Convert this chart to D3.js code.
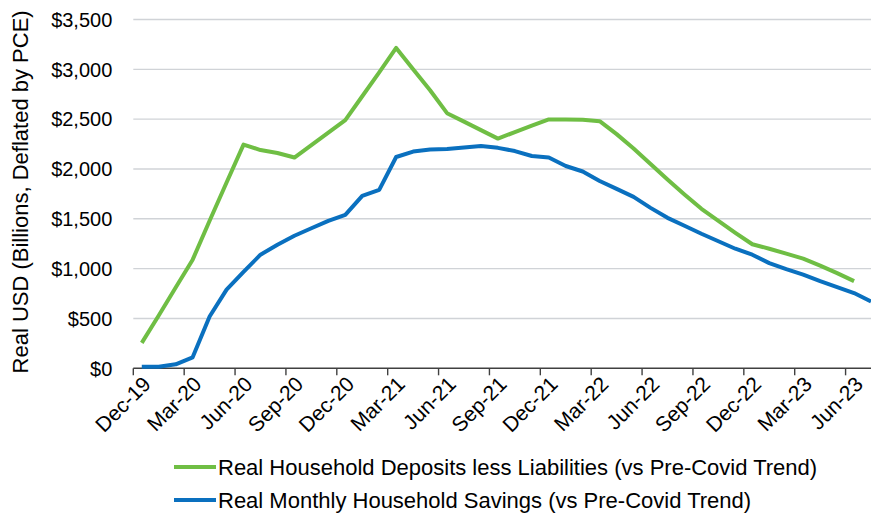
<!DOCTYPE html>
<html>
<head>
<meta charset="utf-8">
<script src="https://cdn.jsdelivr.net/npm/d3@7"></script>
<style>
  html, body { margin: 0; padding: 0; background: #fff; }
  svg { display: block; font-family: "Liberation Sans", Arial, Helvetica, sans-serif; }
</style>
</head>
<body>
<svg id="chart" width="871" height="519"></svg>
<script>
const months = ["Dec-19","Jan-20","Feb-20","Mar-20","Apr-20","May-20","Jun-20","Jul-20","Aug-20","Sep-20","Oct-20","Nov-20",
  "Dec-20","Jan-21","Feb-21","Mar-21","Apr-21","May-21","Jun-21","Jul-21","Aug-21","Sep-21","Oct-21","Nov-21",
  "Dec-21","Jan-22","Feb-22","Mar-22","Apr-22","May-22","Jun-22","Jul-22","Aug-22","Sep-22","Oct-22","Nov-22",
  "Dec-22","Jan-23","Feb-23","Mar-23","Apr-23","May-23","Jun-23","Jul-23"];

const depositsLessLiabilities = [255,530,810,1090,1480,1865,2245,2190,2160,2115,2240,2365,
  2490,2730,2970,3215,3000,2790,2560,2475,2390,2305,2370,2435,
  2497,2497,2495,2480,2350,2205,2050,1895,1745,1600,1480,1360,
  1245,1200,1150,1100,1030,955,875,null];

const monthlySavings = [15,15,40,110,520,790,968,1140,1240,1330,1405,1480,
  1540,1730,1790,2120,2175,2195,2200,2215,2230,2212,2180,2130,
  2115,2030,1975,1880,1800,1720,1610,1510,1430,1350,1275,1200,
  1140,1055,995,940,875,815,755,670];

const yTicks = [0,500,1000,1500,2000,2500,3000,3500];
const seriesNames = ["Real Household Deposits less Liabilities (vs Pre-Covid Trend)",
                     "Real Monthly Household Savings (vs Pre-Covid Trend)"];
const seriesColors = ["#6fbe44", "#0a70bf"];
const yTitle = "Real USD (Billions, Deflated by PCE)";

const svg = d3.select("#chart");
const pLeft = 133.3, pRight = 879.5, pTop = 19.5, pBottom = 368.3;

const x = d3.scaleBand().domain(months).range([pLeft, pRight]).padding(0);
const cx = m => x(m) + x.bandwidth() / 2;
const y = d3.scaleLinear().domain([0, 3500]).range([pBottom, pTop]);

// gridlines
svg.append("g").selectAll("line").data(yTicks.filter(t => t > 0)).join("line")
  .attr("x1", pLeft).attr("x2", 871)
  .attr("y1", d => y(d)).attr("y2", d => y(d))
  .attr("stroke", "#d0d3d7").attr("stroke-width", 1.4);

// y labels
const fmt = d => "$" + d3.format(",")(d);
svg.append("g").selectAll("text").data(yTicks).join("text")
  .attr("x", pLeft - 21).attr("y", d => y(d)).attr("dy", "0.36em")
  .attr("text-anchor", "end").attr("font-size", 20).attr("fill", "#000")
  .text(fmt);

// y title
svg.append("text")
  .attr("transform", `translate(20,${(pTop + pBottom) / 2 - 2}) rotate(-90)`)
  .attr("text-anchor", "middle").attr("dy", "0.35em")
  .attr("font-size", 22).attr("fill", "#000").text(yTitle);

// x axis line and ticks
svg.append("line").attr("x1", pLeft).attr("x2", 871).attr("y1", pBottom).attr("y2", pBottom)
  .attr("stroke", "#404040").attr("stroke-width", 1.4);
const tickMonths = months.filter((m, i) => i % 3 === 0);
svg.append("g").selectAll("line").data(tickMonths).join("line")
  .attr("x1", d => x(d)).attr("x2", d => x(d))
  .attr("y1", pBottom).attr("y2", pBottom + 7)
  .attr("stroke", "#404040").attr("stroke-width", 1.4);
svg.append("g").selectAll("text").data(tickMonths).join("text")
  .attr("transform", d => `translate(${cx(d) + 5},${pBottom + 12}) rotate(-45)`)
  .attr("text-anchor", "end").attr("dy", "0.35em")
  .attr("font-size", 21).attr("fill", "#000").text(d => d);

// lines
const line = d3.line()
  .defined(d => d.v != null)
  .x(d => cx(d.m)).y(d => y(d.v));
[depositsLessLiabilities, monthlySavings].forEach((vals, k) => {
  const data = months.map((m, i) => ({ m, v: vals[i] }));
  svg.append("path").datum(data)
    .attr("fill", "none").attr("stroke", seriesColors[k])
    .attr("stroke-width", 4).attr("stroke-linejoin", "round")
    .attr("d", line);
});

// legend
const lg = svg.append("g");
seriesNames.forEach((name, k) => {
  const ly = 467 + k * 33;
  lg.append("line").attr("x1", 174).attr("x2", 216).attr("y1", ly).attr("y2", ly)
    .attr("stroke", seriesColors[k]).attr("stroke-width", 4);
  lg.append("text").attr("x", 218).attr("y", ly).attr("dy", "0.36em")
    .attr("font-size", 22).attr("fill", "#000").text(name);
});
</script>
</body>
</html>
